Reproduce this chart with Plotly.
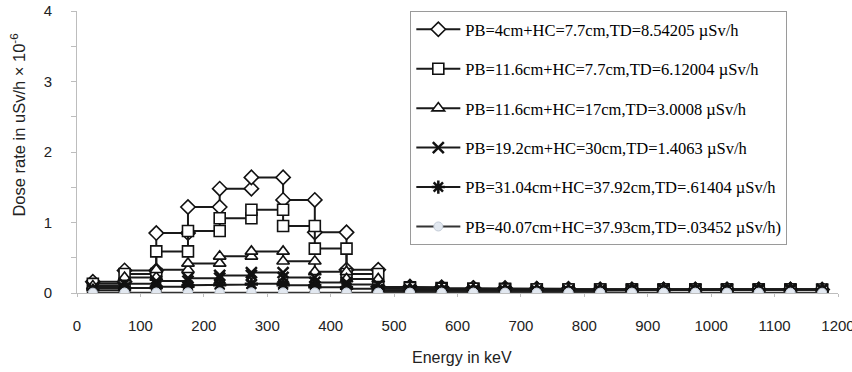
import plotly.graph_objects as go

# Bin edges (keV) and per-bin dose-rate values (uSv/h x 1e-6)
edges = [25 + 50 * k for k in range(24)]

s1 = [0.16, 0.32, 0.85, 1.22, 1.48, 1.64, 1.32, 0.86, 0.33, 0.09, 0.08, 0.07,
      0.07, 0.06, 0.06, 0.05, 0.05, 0.05, 0.05, 0.05, 0.05, 0.05, 0.05]
s2 = [0.13, 0.27, 0.59, 0.88, 1.06, 1.18, 0.95, 0.63, 0.27, 0.08, 0.07, 0.06,
      0.06, 0.05, 0.05, 0.05, 0.05, 0.05, 0.05, 0.05, 0.05, 0.05, 0.05]
s3 = [0.10, 0.22, 0.33, 0.42, 0.52, 0.59, 0.45, 0.30, 0.20, 0.06, 0.05, 0.05,
      0.05, 0.04, 0.04, 0.04, 0.05, 0.05, 0.05, 0.05, 0.05, 0.05, 0.05]
s4 = [0.07, 0.13, 0.17, 0.21, 0.25, 0.29, 0.22, 0.15, 0.12, 0.04, 0.04, 0.04,
      0.03, 0.03, 0.03, 0.03, 0.04, 0.05, 0.05, 0.05, 0.05, 0.05, 0.05]
s5 = [0.04, 0.07, 0.09, 0.11, 0.12, 0.13, 0.11, 0.08, 0.06, 0.02, 0.02, 0.02,
      0.02, 0.02, 0.02, 0.02, 0.04, 0.05, 0.05, 0.05, 0.05, 0.05, 0.05]
s6 = [0.005, 0.005, 0.006, 0.007, 0.008, 0.008, 0.007, 0.006, 0.005, 0.004, 0.004, 0.004,
      0.004, 0.004, 0.004, 0.004, 0.004, 0.004, 0.004, 0.004, 0.004, 0.004, 0.004]

names = [
    "PB=4cm+HC=7.7cm,TD=8.54205 µSv/h",
    "PB=11.6cm+HC=7.7cm,TD=6.12004 µSv/h",
    "PB=11.6cm+HC=17cm,TD=3.0008 µSv/h",
    "PB=19.2cm+HC=30cm,TD=1.4063 µSv/h",
    "PB=31.04cm+HC=37.92cm,TD=.61404 µSv/h",
    "PB=40.07cm+HC=37.93cm,TD=.03452 µSv/h)",
]
series = [s1, s2, s3, s4, s5, s6]
symbols = ["diamond", "square", "triangle-up", "x-thin", "asterisk", "circle"]
msizes = [11, 11, 11, 11, 11, 9]

x_ticks = [0, 100, 200, 300, 400, 500, 600, 700, 800, 900, 1000, 1100, 1200]
y_ticks = [0, 1, 2, 3, 4]


def steps(vals):
    xs, ys = [], []
    for i, v in enumerate(vals):
        xs += [edges[i], edges[i + 1]]
        ys += [v, v]
    return xs, ys


fig = go.Figure()
for i, (vals, nm, sym, ms) in enumerate(zip(series, names, symbols, msizes)):
    xs, ys = steps(vals)
    if i == 5:
        marker = dict(symbol=sym, size=ms, color="#e2e8f0",
                      line=dict(color="#c4ccd8", width=1))
        line = dict(color="#333333", width=2)
    elif sym in ("x-thin", "asterisk"):
        marker = dict(symbol=sym, size=ms, color="#111111",
                      line=dict(color="#111111", width=2.5))
        line = dict(color="#1a1a1a", width=2)
    else:
        marker = dict(symbol=sym, size=ms, color="white",
                      line=dict(color="#111111", width=1.6))
        line = dict(color="#1a1a1a", width=2)
    fig.add_trace(go.Scatter(x=xs, y=ys, mode="lines+markers", name=nm,
                             legendgroup=f"g{i}", line=line, marker=marker))

fig.update_layout(
    width=852, height=372,
    margin=dict(l=77, r=14, t=11, b=79, autoexpand=False),
    paper_bgcolor="white", plot_bgcolor="white",
    font=dict(family="Liberation Sans, Arial, sans-serif", size=15, color="#222222"),
    showlegend=True,
    legend=dict(
        x=0.438, y=1.0, xanchor="left", yanchor="top", maxheight=330,
        bgcolor="white", bordercolor="#9a9a9a", borderwidth=1,
        font=dict(family="Liberation Serif, Times New Roman, serif", size=16.5, color="#000000"),
        traceorder="grouped", tracegroupgap=15, itemwidth=44,
    ),
    xaxis=dict(
        range=[0, 1200], tickmode="array", tickvals=x_ticks, automargin=False,
        showgrid=False, zeroline=False, showline=True, linecolor="#bdbdbd", linewidth=1,
        ticks="outside", ticklen=3, tickcolor="#bdbdbd", ticklabelstandoff=16,
        ticklabeloverflow="allow", tickfont=dict(size=15),
    ),
    yaxis=dict(
        range=[0, 4], tickmode="array", tickvals=y_ticks, automargin=False,
        showgrid=False, zeroline=False, showline=True, linecolor="#bdbdbd", linewidth=1,
        ticks="outside", ticklen=5, tickcolor="#bdbdbd", ticklabelstandoff=16,
        tickfont=dict(size=15),
        minor=dict(dtick=0.5, ticks="outside", ticklen=5, tickcolor="#bdbdbd"),
    ),
    annotations=[
        dict(text="Dose rate in uSv/h × 10<sup>-6</sup>", xref="paper", yref="paper",
             x=-0.078, y=0.596, textangle=-90, showarrow=False,
             xanchor="center", yanchor="middle", font=dict(size=16.5, color="#222222")),
        dict(text="Energy in keV", xref="paper", yref="paper",
             x=0.506, y=-0.227, showarrow=False, xanchor="center", yanchor="middle",
             font=dict(size=16, color="#222222")),
    ],
)

fig.write_html("out.html")
